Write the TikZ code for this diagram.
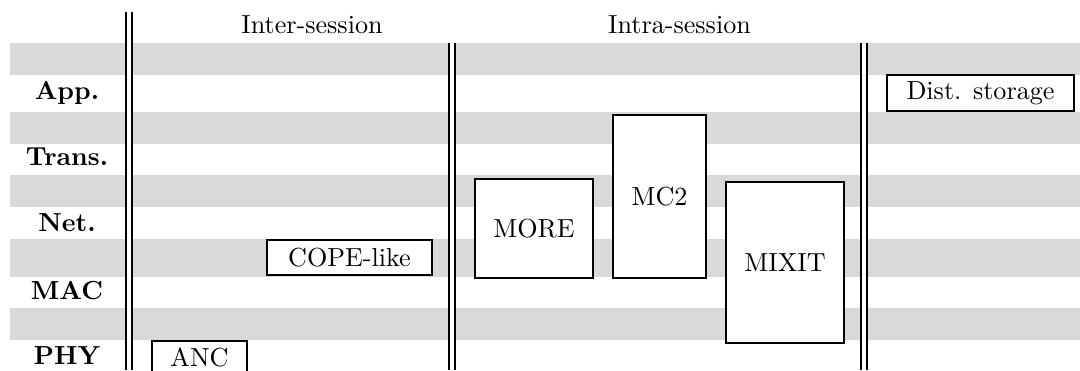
\documentclass[tikz,border=0pt]{standalone}
\newdimen\pxu \pxu=0.383pt
\begin{document}
\begin{tikzpicture}[x=\pxu, y=-\pxu,
  stripe/.style={fill=gray!30, draw=none},
  rule/.style={line width=0.4pt, black},
  blk/.style={draw, line width=0.8pt, fill=white, inner sep=0pt},
  layer/.style={font=\bfseries, anchor=base},
  head/.style={anchor=base}]
  \useasboundingbox (0,0) rectangle (1080,370);
  \clip (0,0) rectangle (1080,370);

  % shaded rows, interrupted between the double rules
  \foreach \t/\b in {43/75, 112/144, 175/207, 239/277, 308/340} {
    \fill[stripe] (10,\t) rectangle (126,\b);
    \fill[stripe] (132,\t) rectangle (449,\b);
    \fill[stripe] (455,\t) rectangle (861,\b);
    \fill[stripe] (867,\t) rectangle (1080,\b);
  }

  % double column rules
  \draw[rule] (126,12) -- (126,370) (132,12) -- (132,370);
  \draw[rule] (449,43) -- (449,370) (455,43) -- (455,370);
  \draw[rule] (861,43) -- (861,370) (867,43) -- (867,370);

  % column headers
  \node[head] (inter) at (312,33) {Inter-session};
  \node[head] (intra) at (679.5,33) {Intra-session};

  % layer labels
  \node[layer] (app)   at (67,99)  {App.};
  \node[layer] (trans) at (67,165) {Trans.};
  \node[layer] (net)   at (67,231) {Net.};
  \node[layer] (mac)   at (67,299) {MAC};
  \node[layer] (phy)   at (67,364) {PHY};

  % schemes
  \node[blk, minimum width=187\pxu, minimum height=36\pxu] (dist) at (980.5,93) {Dist. storage};
  \node[blk, minimum width=93\pxu, minimum height=163\pxu] (mc2) at (659.5,196.5) {MC2};
  \node[blk, minimum width=118\pxu, minimum height=99\pxu] (more) at (534,228.5) {MORE};
  \node[blk, minimum width=118\pxu, minimum height=161\pxu] (mixit) at (785,262.5) {MIXIT};
  \node[blk, minimum width=165\pxu, minimum height=35\pxu] (cope) at (349.5,257.5) {COPE-like};
  \node[blk, minimum width=95\pxu, minimum height=32\pxu] (anc) at (199.5,357) {ANC};
\end{tikzpicture}
\end{document}
